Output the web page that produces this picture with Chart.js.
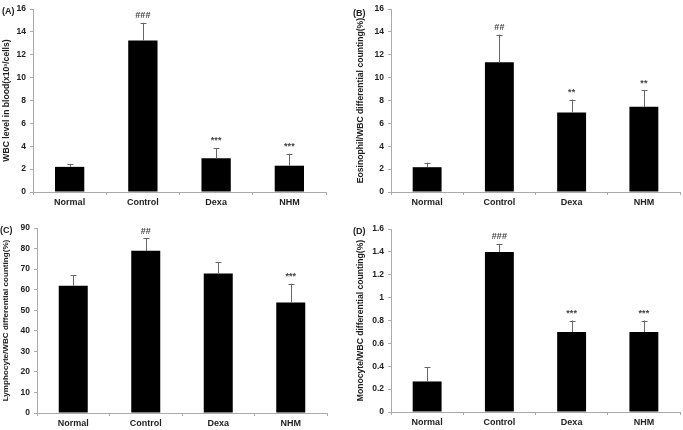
<!DOCTYPE html>
<html>
<head>
<meta charset="utf-8">
<script src="https://cdn.jsdelivr.net/npm/chart.js@4/dist/chart.umd.min.js"></script>
<style>
  html, body { margin: 0; padding: 0; background: #fff; }
  #wrap { position: relative; width: 683px; height: 430px; overflow: hidden; background: #fff; }
  canvas { position: absolute; }
  .tag { position: absolute; font: bold 9px "Liberation Sans", Arial, sans-serif; color: #222; }
</style>
</head>
<body>
<div id="wrap">
  <canvas id="cA" width="340" height="215" style="left:0;top:0"></canvas>
  <canvas id="cB" width="343" height="215" style="left:340px;top:0"></canvas>
  <canvas id="cC" width="340" height="215" style="left:0;top:215px"></canvas>
  <canvas id="cD" width="343" height="215" style="left:340px;top:215px"></canvas>
  <div class="tag" style="left:2px;top:6px">(A)</div>
  <div class="tag" style="left:353px;top:8px">(B)</div>
  <div class="tag" style="left:0px;top:225px">(C)</div>
  <div class="tag" style="left:353px;top:226px">(D)</div>
</div>
<script>
const categories = ['Normal', 'Control', 'Dexa', 'NHM'];

const wbcValues = [2.2, 13.25, 2.95, 2.3];
const wbcErrors = [0.25, 1.55, 0.9, 1.05];
const wbcSig = ['', '###', '***', '***'];
const wbcTicks = [0, 2, 4, 6, 8, 10, 12, 14, 16];

const eosValues = [2.17, 11.36, 6.96, 7.45];
const eosErrors = [0.4, 2.41, 1.13, 1.45];
const eosSig = ['', '##', '**', '**'];
const eosTicks = [0, 2, 4, 6, 8, 10, 12, 14, 16];

const lymValues = [61.9, 78.9, 67.9, 53.8];
const lymErrors = [5.0, 6.2, 5.5, 9.1];
const lymSig = ['', '##', '', '***'];
const lymTicks = [0, 10, 20, 30, 40, 50, 60, 70, 80, 90];

const monValues = [0.267, 1.40, 0.70, 0.70];
const monErrors = [0.123, 0.07, 0.10, 0.10];
const monSig = ['', '###', '***', '***'];
const monTicks = [0, 0.2, 0.4, 0.6, 0.8, 1, 1.2, 1.4, 1.6];

const FONT = '"Liberation Sans", Arial, sans-serif';

const errorPlugin = {
  id: 'errbars',
  afterDatasetsDraw(chart) {
    const opts = chart.options.plugins.errbars;
    const xs = chart.scales.x, ys = chart.scales.y;
    const ctx = chart.ctx;
    ctx.save();
    chart.data.datasets[0].data.forEach((v, i) => {
      const x = xs.getPixelForValue(i);
      const yBar = ys.getPixelForValue(v);
      const yTop = ys.getPixelForValue(v + opts.errors[i]);
      ctx.strokeStyle = '#666';
      ctx.lineWidth = 1;
      ctx.beginPath();
      ctx.moveTo(Math.round(x) + 0.5, yBar);
      ctx.lineTo(Math.round(x) + 0.5, yTop);
      ctx.moveTo(Math.round(x) - 2.5, Math.round(yTop) + 0.5);
      ctx.lineTo(Math.round(x) + 3.5, Math.round(yTop) + 0.5);
      ctx.stroke();
      if (opts.sig[i]) {
        ctx.fillStyle = '#444';
        ctx.font = 'bold 9px ' + FONT;
        ctx.textAlign = 'center';
        ctx.textBaseline = 'middle';
        ctx.fillText(opts.sig[i], x, yTop - 7);
      }
    });
    ctx.restore();
  }
};

function makeChart(id, values, errors, sig, ticks, title, cfg) {
  const ctx = document.getElementById(id);
  return new Chart(ctx, {
    type: 'bar',
    data: {
      labels: categories,
      datasets: [{
        data: values,
        backgroundColor: '#000',
        borderWidth: 0,
        categoryPercentage: 1,
        barPercentage: 0.4
      }]
    },
    options: {
      responsive: false,
      animation: false,
      devicePixelRatio: 1,
      layout: { padding: cfg.padding },
      plugins: {
        legend: { display: false },
        tooltip: { enabled: false },
        errbars: { errors: errors, sig: sig }
      },
      scales: {
        x: {
          offset: true,
          grid: { display: true, drawOnChartArea: false, offset: true, tickLength: 3, color: '#aaa' },
          border: { display: true, color: '#aaa' },
          ticks: { color: '#222', font: { family: FONT, size: 9, weight: 'bold' }, padding: 2, maxRotation: 0 },
          afterFit(s) { s.height = cfg.xHeight; }
        },
        y: {
          min: ticks[0],
          max: ticks[ticks.length - 1],
          afterBuildTicks(s) { s.ticks = ticks.map(v => ({ value: v })); },
          grid: { display: true, drawOnChartArea: false, tickLength: 3, color: '#aaa' },
          border: { display: true, color: '#aaa' },
          ticks: { color: '#222', font: { family: FONT, size: 8.5, weight: 'bold' }, padding: 4,
                   callback: v => String(v) },
          title: { display: true, text: title, color: '#222',
                   font: { family: FONT, size: cfg.titleSize, weight: 'bold' }, padding: { top: 1, bottom: 1 } },
          afterFit(s) { s.width = cfg.yWidth; }
        }
      }
    },
    plugins: [errorPlugin]
  });
}

makeChart('cA', wbcValues, wbcErrors, wbcSig, wbcTicks, 'WBC level in blood(x10³/cells)',
  { padding: { left: 0, top: 8, right: 14, bottom: 0 }, yWidth: 33, xHeight: 23, titleSize: 8.6 });
makeChart('cB', eosValues, eosErrors, eosSig, eosTicks, 'Eosinophil/WBC differential counting(%)',
  { padding: { left: 14, top: 8, right: 3, bottom: 0 }, yWidth: 37, xHeight: 23, titleSize: 8.6 });
makeChart('cC', lymValues, lymErrors, lymSig, lymTicks, 'Lymphocyte/WBC differential counting(%)',
  { padding: { left: 0, top: 13, right: 13, bottom: 0 }, yWidth: 37, xHeight: 17, titleSize: 8.1 });
makeChart('cD', monValues, monErrors, monSig, monTicks, 'Monocyte/WBC differential counting(%)',
  { padding: { left: 14, top: 14, right: 3, bottom: 0 }, yWidth: 37, xHeight: 18, titleSize: 8.6 });
</script>
</body>
</html>
